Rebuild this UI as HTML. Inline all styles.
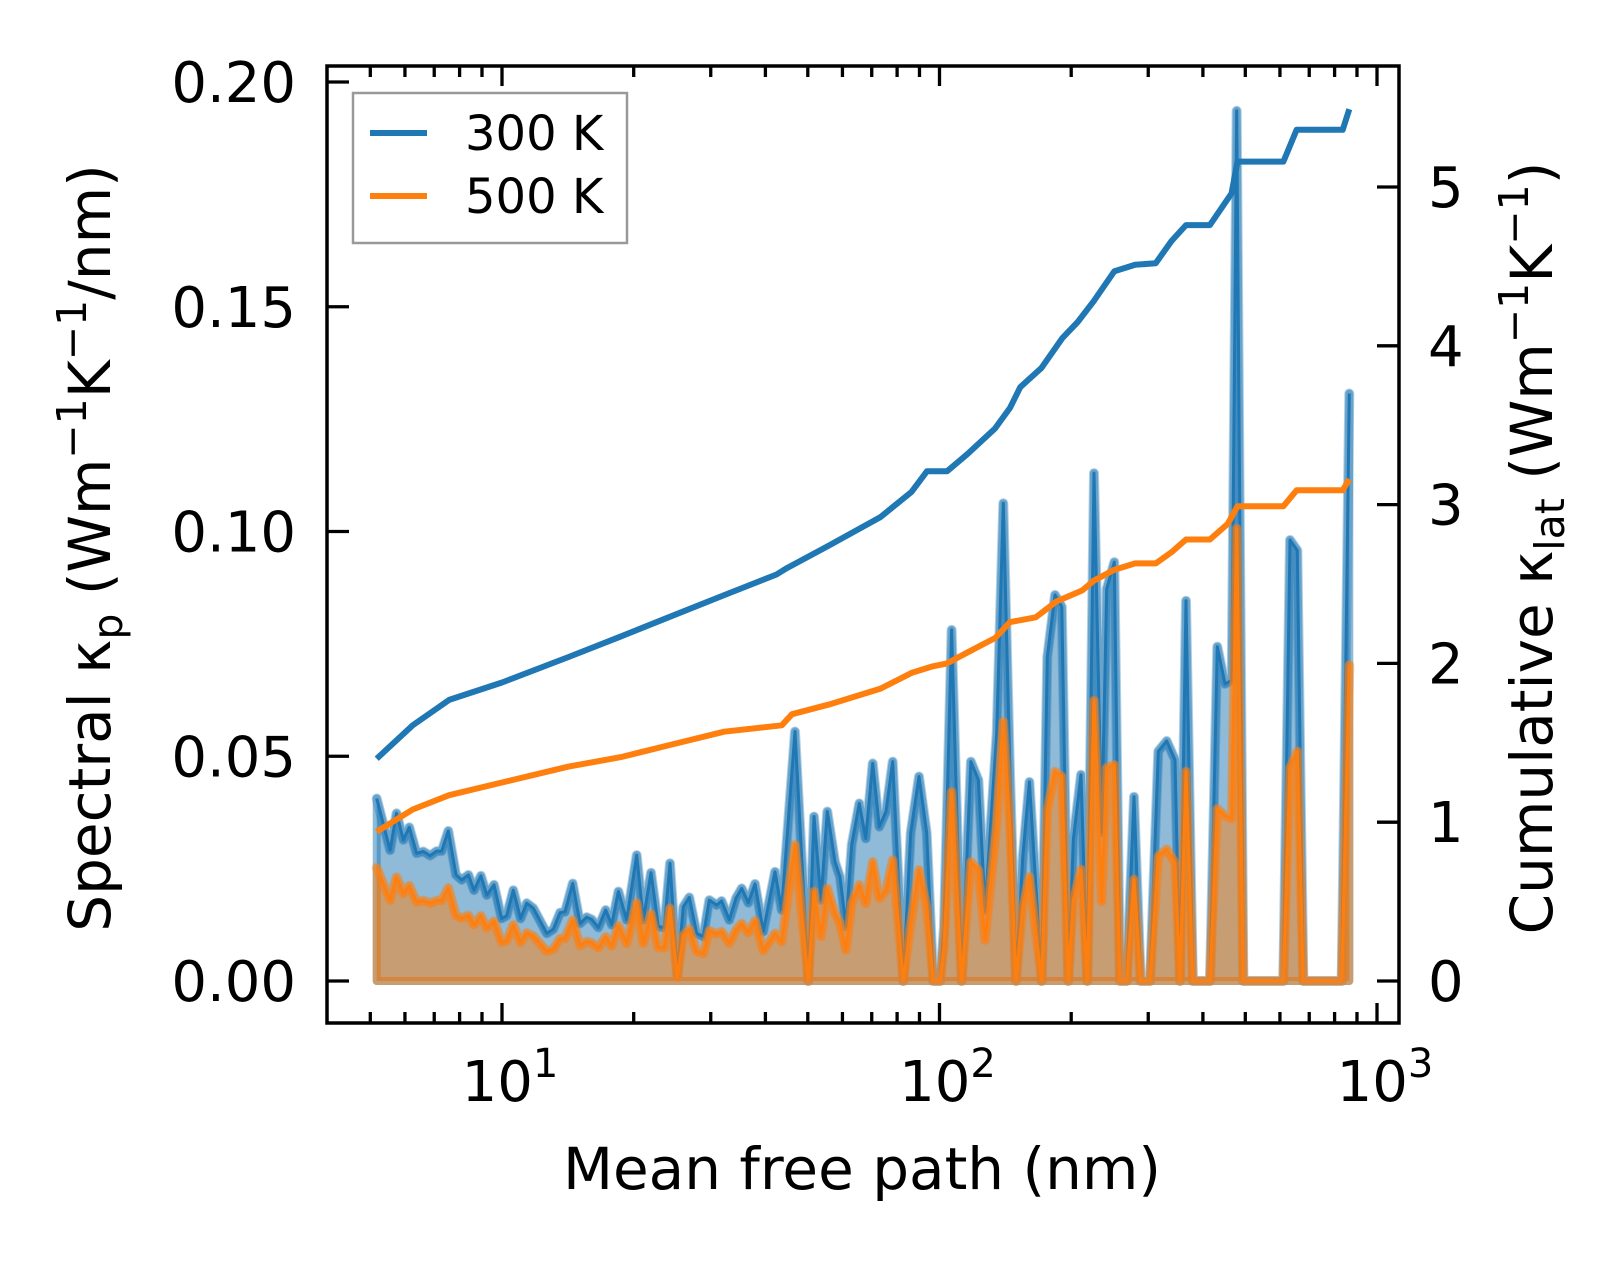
<!DOCTYPE html>
<html><head><meta charset="utf-8"><style>
html,body{margin:0;padding:0;background:#fff;}
svg{display:block;}
text{font-family:"DejaVu Sans","Liberation Sans",sans-serif;fill:#000;}
</style></head><body>
<svg id="chart" width="1623" height="1262" viewBox="0 0 1623 1262" xmlns="http://www.w3.org/2000/svg">
<g id="plot"></g>
</svg>
<script>
const mfp=[5.17,5.55,5.74,5.95,6.14,6.38,6.61,6.85,7.09,7.28,7.54,7.85,8.09,8.38,8.63,8.95,9.23,9.59,9.98,10.25,10.61,11.03,11.39,11.79,12.66,13.10,13.57,13.93,14.51,15.08,15.62,16.03,16.60,17.26,17.81,18.45,19.28,20.32,21.04,21.91,22.77,23.50,24.21,25.16,25.97,26.80,27.86,28.85,29.77,30.95,31.77,33.07,34.26,35.30,36.56,37.86,39.56,
42.07,43.57,46.74,50.13,51.66,53.60,55.40,57.69,59.24,61.13,63.01,65.58,67.83,70.37,72.86,75.47,78.17,82.67,85.95,89.78,93.48,96.79,100.3,102.4,106.6,112.4,118.0,122.7,127.1,135.1,139.9,144.9,149.6,155.0,160.5,166.8,171.2,176.4,183.7,190.3,197.0,202.2,210.6,217.7,225.5,234.8,241.1,250.9,258.5,267.8,278.3,288.4,302.8,316.3,330.6,345.4,354.6,366.0,379.2,415.2,431.4,449.3,465.4,477.8,494.7,610.7,632.6,657.4,678.5,830.6,864.5];
const k300=[.0406,.0291,.0373,.0314,.0342,.0284,.0288,.0279,.0289,.0289,.0334,.0236,.0225,.0236,.0202,.0234,.0191,.0214,.0139,.0145,.0202,.0139,.0173,.0162,.0106,.0115,.0152,.0154,.0217,.0128,.0142,.0137,.0119,.0158,.0125,.0199,.0136,.0280,.0136,.0241,.0121,.0119,.0262,.0013,.0165,.0186,.0106,.0099,.0180,.0169,.0178,.0136,.0184,.0206,.0174,.0216,.0110,
.0243,.0158,.0555,0,.0366,.0180,.0377,.0265,.0231,.0121,.0303,.0395,.0317,.0484,.0343,.0377,.0488,0,.0329,.0455,.0329,0,0,.0121,.0781,0,.0488,.0447,.0158,.0551,.1063,.0462,0,.0277,.0443,.0180,0,.0721,.0859,.0833,0,.0314,.0459,0,.113,.0331,.0872,.0932,0,0,.0410,0,0,.0511,.0534,.0492,0,.0846,0,0,.0744,.0661,.0669,.1936,0,0,.0981,.0958,0,0,.1307];
const k500=[.0252,.0180,.0231,.0195,.0212,.0176,.0179,.0173,.0179,.0179,.0207,.0146,.0140,.0146,.0125,.0145,.0118,.0133,.0086,.0090,.0125,.0086,.0107,.0100,.0066,.0071,.0094,.0095,.0135,.0079,.0088,.0085,.0074,.0098,.0078,.0123,.0084,.0174,.0084,.0149,.0075,.0074,.0162,.0008,.0102,.0115,.0066,.0061,.0112,.0105,.0110,.0084,.0114,.0128,.0108,.0134,.0068,
.0106,.0087,.0303,0,.0199,.0099,.0206,.0151,.0128,.0069,.0173,.0214,.0173,.0265,.0184,.0202,.0269,0,.0128,.0247,.0165,0,0,.0076,.0421,0,.0265,.0247,.0091,.0351,.0577,.0336,0,.0165,.0232,.0091,0,.0380,.0466,.0455,0,.0180,.0248,0,.0624,.0177,.0474,.0481,0,0,.0226,0,0,.0278,.0293,.0263,0,.0466,0,0,.0383,.0368,.0361,.1007,0,0,.0474,.0511,0,0,.0703];
const cumMfp300=[5.17,6.25,7.57,10,14.2,18.7,24.5,32.2,42.4,44.8,55.7,73.2,86.3,93.6,104,116,134,145,153,171,191,207,225,251,280,312,339,366,415,465,480,611,655,835,864.5];
const cum300=[1.40,1.61,1.77,1.88,2.04,2.17,2.30,2.43,2.56,2.60,2.74,2.92,3.08,3.21,3.21,3.32,3.48,3.61,3.74,3.86,4.05,4.15,4.28,4.47,4.51,4.52,4.66,4.76,4.76,4.96,5.16,5.16,5.36,5.36,5.49];
const cumMfp500=[5.17,6.25,7.57,10,14.2,18.7,24.5,32.2,43.6,46.0,55.7,73.2,86.3,96,104,116,134,145,166,185,212,225,251,280,312,339,366,415,456,480,611,655,835,864.5];
const cum500=[0.94,1.08,1.17,1.25,1.35,1.41,1.49,1.57,1.61,1.68,1.74,1.84,1.94,1.98,2.00,2.07,2.16,2.26,2.29,2.39,2.46,2.52,2.59,2.63,2.63,2.70,2.78,2.78,2.88,2.99,2.99,3.09,3.09,3.16];
const leftTicks=[0,0.05,0.10,0.15,0.20];
const leftTickLabels=["0.00","0.05","0.10","0.15","0.20"];
const rightTicks=[0,1,2,3,4,5];
const xMajor=[1,2,3];

const L=327,R=1399,T=66,B=1023;
function xs(m){return 502+(Math.log10(m)-1)*437.5;}
function yl(k){return 981-k*4495;}
function yr(u){return 981-u*158.8;}
const NS="http://www.w3.org/2000/svg";
const g=document.getElementById('plot');
function mk(tag,attrs,parent){const e=document.createElementNS(NS,tag);for(const a in attrs)e.setAttribute(a,attrs[a]);(parent||g).appendChild(e);return e;}

function area(vals,color,name){
  let pts=mfp.map((m,i)=>xs(m).toFixed(1)+','+yl(vals[i]).toFixed(1));
  let poly=pts.concat([xs(mfp[mfp.length-1]).toFixed(1)+','+yl(0),xs(mfp[0]).toFixed(1)+','+yl(0)]).join(' ');
  const p=mk('polygon',{points:poly,fill:color,'fill-opacity':0.5,stroke:color,'stroke-opacity':0.5,'stroke-width':8,'stroke-linejoin':'round'});
  
  
  const h=mk('polyline',{points:pts.join(' '),fill:'none',stroke:color,'stroke-opacity':0.35,'stroke-width':10,'stroke-linejoin':'round','stroke-linecap':'round'});
  
  
  const l=mk('polyline',{points:pts.join(' '),fill:'none',stroke:color,'stroke-width':3,'stroke-linejoin':'round'});
  
  
}
area(k300,'#1f77b4','spectral-300k');
area(k500,'#ff7f0e','spectral-500k');

function cum(ms,vs,color,name){
  const pts=ms.map((m,i)=>xs(m).toFixed(1)+','+yr(vs[i]).toFixed(1)).join(' ');
  const l=mk('polyline',{points:pts,fill:'none',stroke:color,'stroke-width':6,'stroke-linejoin':'round'});
  
  
}
cum(cumMfp300,cum300,'#1f77b4','cumulative-300k-line');
cum(cumMfp500,cum500,'#ff7f0e','cumulative-500k-line');

const fr=mk('rect',{x:L,y:T,width:R-L,height:B-T,fill:'none',stroke:'#000','stroke-width':3.5});



leftTicks.forEach((v,i)=>{
  const y=yl(v);
  const t=mk('line',{x1:L,x2:L+22,y1:y,y2:y,stroke:'#000','stroke-width':3.3});
  
  
  const tx=mk('text',{x:296,y:y+20,'text-anchor':'end','font-size':56});
  tx.textContent=leftTickLabels[i];
  
  
});
rightTicks.forEach(v=>{
  const y=yr(v);
  const t=mk('line',{x1:R-22,x2:R,y1:y,y2:y,stroke:'#000','stroke-width':3.3});
  
  
  const tx=mk('text',{x:1428,y:y+20,'font-size':56});
  tx.textContent=String(v);
  
  
});
for(let e=0;e<=3;e++){
  for(let d=1;d<10;d++){
    const m=d*Math.pow(10,e);
    const x=xs(m);
    if(x<L+1||x>R-1)continue;
    const len=d===1?20:11;
    const a=mk('line',{x1:x,x2:x,y1:B,y2:B-len,stroke:'#000','stroke-width':3.3});
    
    
    const b=mk('line',{x1:x,x2:x,y1:T,y2:T+len,stroke:'#000','stroke-width':3.3});
    
    
  }
}
xMajor.forEach(e=>{
  const x=xs(Math.pow(10,e));
  const tx=mk('text',{x:x+8,y:1101,'text-anchor':'middle','font-size':56});
  
  
  const t1=mk('tspan',{},tx);t1.textContent='10';
  const t2=mk('tspan',{dy:-24,'font-size':40},tx);t2.textContent=String(e);
});
</script>
<script>
const s=document.getElementById('chart');
s.insertAdjacentHTML('beforeend',`
<text x="862" y="1189" text-anchor="middle" font-size="58">Mean free path (nm)</text>
<text transform="translate(110,548) rotate(-90)" text-anchor="middle" font-size="58">Spectral κ<tspan font-size="41" dy="12">p</tspan><tspan dy="-12"> (Wm</tspan><tspan font-size="41" dy="-24">−1</tspan><tspan dy="24">K</tspan><tspan font-size="41" dy="-24">−1</tspan><tspan dy="24">/nm)</tspan></text>
<text transform="translate(1552,548) rotate(-90)" text-anchor="middle" font-size="58">Cumulative κ<tspan font-size="41" dy="12">lat</tspan><tspan dy="-12"> (Wm</tspan><tspan font-size="41" dy="-24">−1</tspan><tspan dy="24">K</tspan><tspan font-size="41" dy="-24">−1</tspan><tspan dy="24">)</tspan></text>
<g>
<rect x="353" y="93" width="274" height="150" fill="#fff" fill-opacity="0.8" stroke="#999" stroke-width="2.5"/>
<line x1="370" x2="427" y1="133" y2="133" stroke="#1f77b4" stroke-width="6"/>
<text x="465" y="150" font-size="48">300 K</text>
<line x1="370" x2="427" y1="196" y2="196" stroke="#ff7f0e" stroke-width="6"/>
<text x="465" y="213" font-size="48">500 K</text>
</g>`);
</script>
</body></html>
